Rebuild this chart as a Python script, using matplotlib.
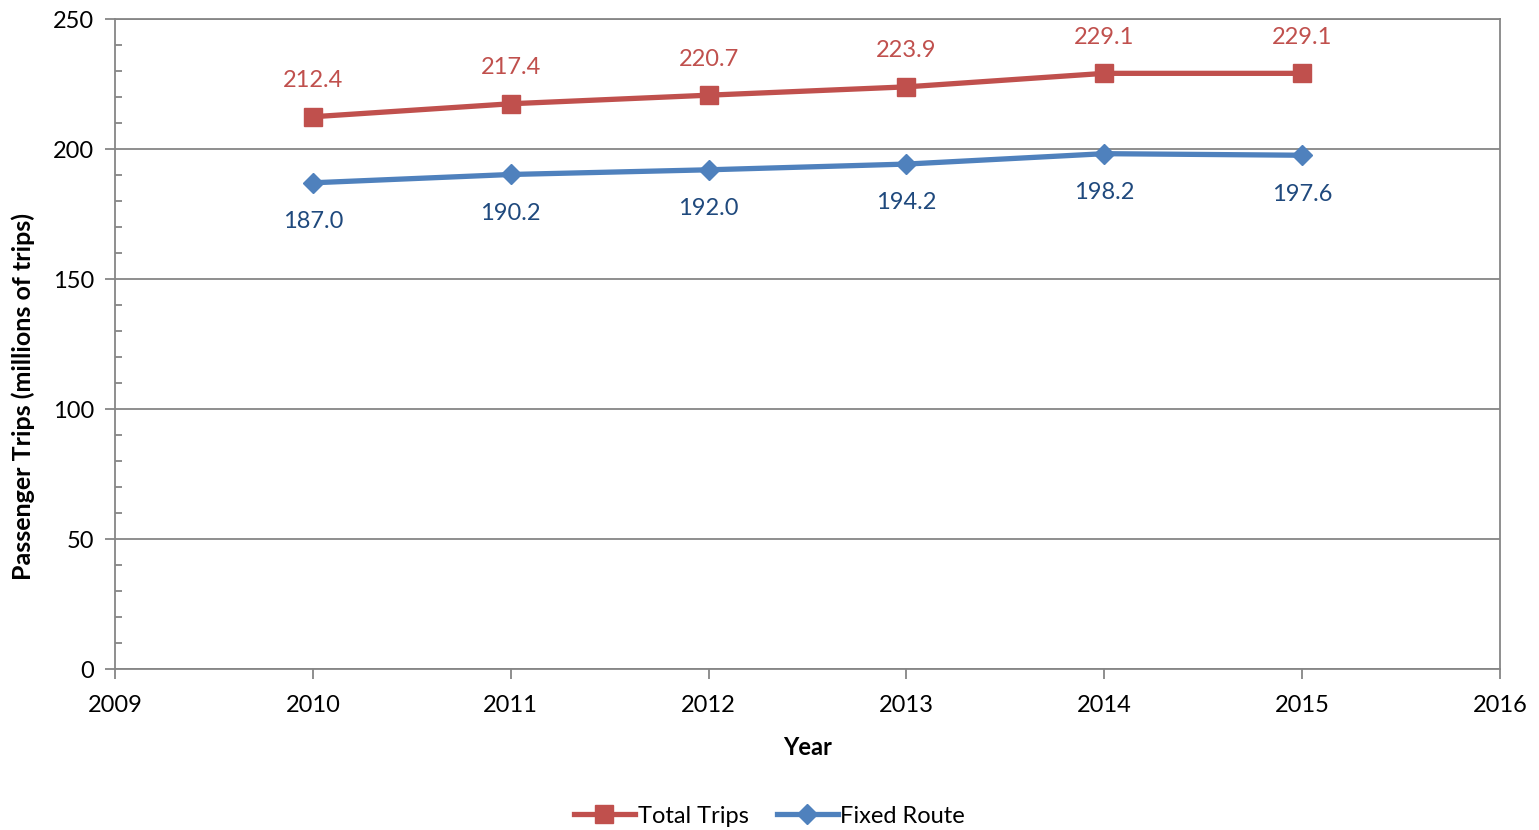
import numpy as np
import matplotlib.pyplot as plt
from matplotlib.ticker import MultipleLocator

plt.rcParams['font.family'] = ['Lato', 'DejaVu Sans']

years = [2010, 2011, 2012, 2013, 2014, 2015]
total_trips = [212.4, 217.4, 220.7, 223.9, 229.1, 229.1]
fixed_route = [187.0, 190.2, 192.0, 194.2, 198.2, 197.6]

red = '#C0504D'
blue = '#4F81BD'
grey = '#868686'

fig = plt.figure(figsize=(15.39, 8.30), dpi=100)
ax = fig.add_axes([115 / 1539, 1 - 669 / 830, (1500 - 115) / 1539, (669 - 19) / 830])

l1, = ax.plot(years, total_trips, color=red, lw=3.8, marker='s', ms=13,
              label='Total Trips', zorder=3)
l2, = ax.plot(years, fixed_route, color=blue, lw=3.8, marker='D', ms=10,
              label='Fixed Route', zorder=3)

for x, y in zip(years, total_trips):
    ax.annotate('%.1f' % y, (x, y), xytext=(0, 26), textcoords='offset points',
                ha='center', va='center', color=red, fontsize=17)
for x, y in zip(years, fixed_route):
    ax.annotate('%.1f' % y, (x, y), xytext=(0, -28), textcoords='offset points',
                ha='center', va='center', color='#1F497D', fontsize=17)

ax.set_xlim(2009, 2016)
ax.set_ylim(0, 250)
ax.xaxis.set_major_locator(MultipleLocator(1))
ax.yaxis.set_major_locator(MultipleLocator(50))
ax.yaxis.set_minor_locator(MultipleLocator(10))
ax.yaxis.grid(True, which='major', color=grey, lw=1.3)
ax.set_axisbelow(True)

for s in ax.spines.values():
    s.set_color(grey)
    s.set_linewidth(1.3)
ax.tick_params(axis='both', which='major', direction='out', length=7,
               width=1.3, color=grey, labelsize=17)
ax.tick_params(axis='x', which='major', pad=12)
ax.tick_params(axis='y', which='major', pad=8)
ax.tick_params(axis='y', which='minor', direction='in', length=5,
               width=1.3, color=grey)

ax.set_xlabel('Year', fontsize=17, fontweight='bold', labelpad=14)
ax.set_ylabel('Passenger Trips (millions of trips)', fontsize=18,
              fontweight='bold', va='center')
ax.yaxis.set_label_coords(-0.066, 0.42)

fig.legend(handles=[l1, l2], loc='center', bbox_to_anchor=(0.5, 1 - 816 / 830),
           ncol=2, frameon=False, fontsize=17, handlelength=2.6,
           handletextpad=0.1, columnspacing=1.2)

plt.savefig('out.png', dpi=100)
